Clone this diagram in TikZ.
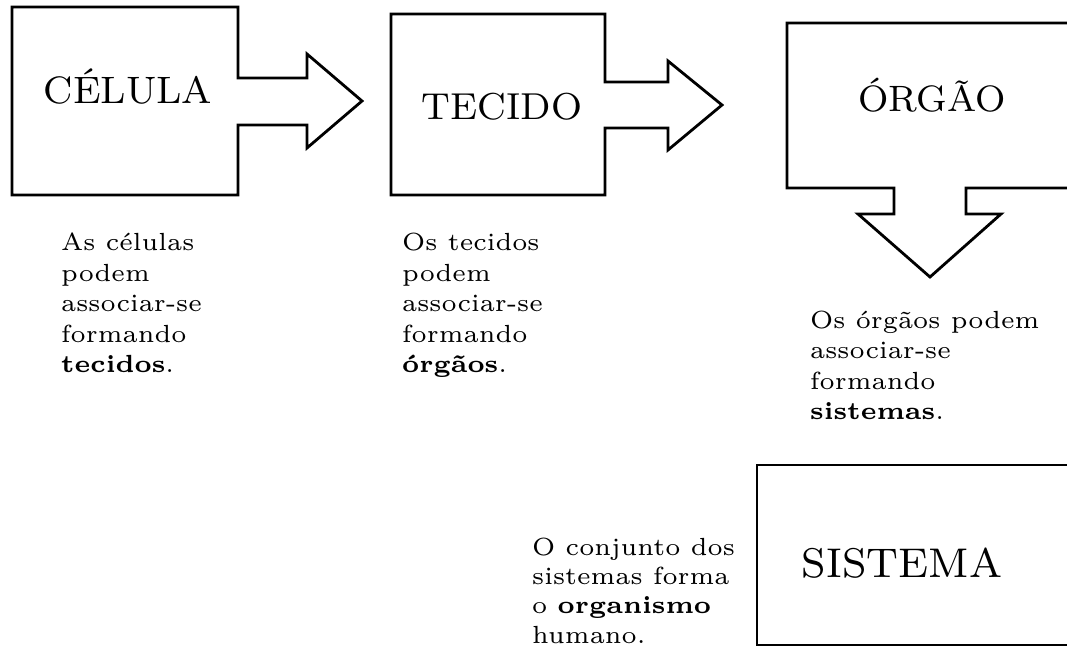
\documentclass[tikz,border=0pt]{standalone}
\usepackage{fontspec}
\newfontfamily\bodyf{lmroman6-regular.otf}[BoldFont=lmroman6-bold.otf]
\newfontfamily\titlef{lmroman8-regular.otf}
\tikzset{
  shapeline/.style={draw=black, line width=2.8pt, line join=miter},
  title/.style={anchor=base, inner sep=0pt, font=\titlef},
  body/.style={anchor=base west, inner sep=0pt, font={\bodyf\fontsize{24.8}{30.5}\selectfont}}
}
\newcommand{\lns}[1]{\vtop{\halign{##\hfil\cr#1\crcr}}}
\begin{document}
\begin{tikzpicture}[x=1pt,y=-1pt]
\useasboundingbox (0,0) rectangle (1067,652);
\clip (0,0) rectangle (1067,652);
% CELULA
\draw[shapeline] (12,7) -- (238,7) -- (238,78) -- (307,78) -- (307,54) -- (362,101)
  -- (307,148) -- (307,125) -- (238,125) -- (238,195) -- (12,195) -- cycle;
% TECIDO
\draw[shapeline] (391,14) -- (605,14) -- (605,82) -- (668,82) -- (668,61) -- (722,105)
  -- (668,150) -- (668,128) -- (605,128) -- (605,195) -- (391,195) -- cycle;
% ORGAO
\draw[shapeline] (787,23) -- (1090,23) -- (1090,188) -- (966,188) -- (966,214) -- (1001,214)
  -- (930,277) -- (858,214) -- (894,214) -- (894,188) -- (787,188) -- cycle;
% SISTEMA
\draw[shapeline] (757,465) -- (1090,465) -- (1090,645) -- (757,645) -- cycle;

\node[title, font={\titlef\fontsize{38.2}{46}\selectfont}] (celula) at (128,104) {CÉLULA};
\node[title, font={\titlef\fontsize{37.5}{46}\selectfont}] (tecido) at (502,120) {TECIDO};
\node[title, font={\titlef\fontsize{36.7}{46}\selectfont}] (orgao) at (932,112) {ÓRGÃO};
\node[title, font={\titlef\fontsize{41.5}{50}\selectfont}] (sistema) at (902,577) {SISTEMA};

\node[body] (t1) at (61,251) {\lns{As células\cr podem\cr associar-se\cr formando\cr \textbf{tecidos}.}};
\node[body] (t2) at (402,251) {\lns{Os tecidos\cr podem\cr associar-se\cr formando\cr \textbf{órgãos}.}};
\node[body] (t3) at (810,328) {\lns{Os órgãos podem\cr associar-se\cr formando\cr \textbf{sistemas}.}};
\node[body, font={\bodyf\fontsize{24.8}{29.4}\selectfont}] (t4) at (532,555) {\lns{O conjunto dos\cr sistemas forma\cr o \textbf{organismo}\cr humano.}};
\end{tikzpicture}
\end{document}
